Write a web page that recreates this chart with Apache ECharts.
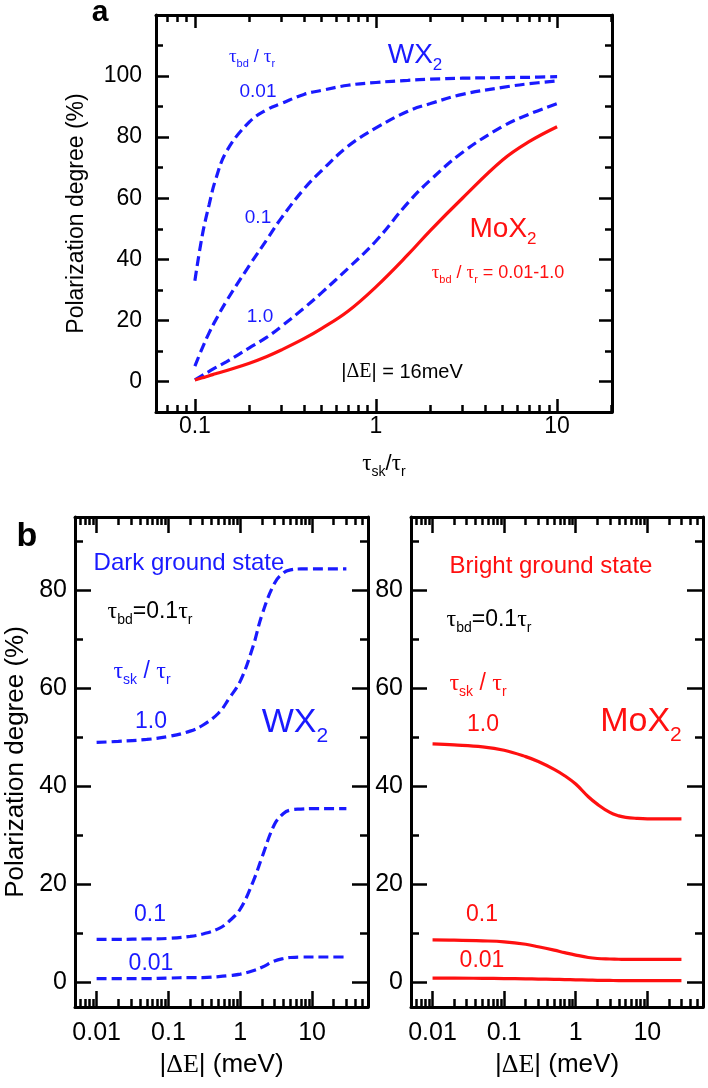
<!DOCTYPE html>
<html><head><meta charset="utf-8">
<script src="https://cdn.jsdelivr.net/npm/echarts@6/dist/echarts.min.js"></script>
<style>html,body{margin:0;padding:0;background:#fff}#c{width:708px;height:1088px}</style>
</head><body><div id="c"></div>
<script>
// ---------- Panel a : polarization vs tau_sk/tau_r (|dE| = 16 meV) ----------
const aX      = [0.1, 0.11, 0.12, 0.13, 0.15, 0.2, 0.25, 0.3, 0.4, 0.5, 0.7, 1, 1.5, 2, 3, 5, 7, 10];
const aWX001  = [33, 48, 58, 66, 75.5, 85, 89, 91, 94, 95.3, 97, 97.9, 98.6, 99, 99.3, 99.5, 99.6, 99.8];
const aWX01   = [5, 11, 16, 20, 26.5, 38, 46.5, 53.5, 63, 69, 77, 83, 88.5, 91, 94, 96.3, 97.5, 98.4];
const aWX1    = [0.5, 2, 3.3, 4.5, 6.5, 11, 14.5, 18, 24, 29, 37, 46, 58.5, 66, 75, 83.5, 87.5, 91];
const aMoX    = [0.5, 1.2, 1.9, 2.5, 3.6, 6, 8.2, 10.3, 14, 17.3, 23, 31, 41.5, 49.5, 60, 72.5, 78.5, 83.4];
const aXRange = [0.061, 20.1];
const aYRange = [-10, 120];
const aXMajor = [0.1, 1, 10];
const aXMajorLabels = ['0.1', '1', '10'];
const aXMinor = [0.07, 0.08, 0.09, 0.2, 0.3, 0.4, 0.5, 0.6, 0.7, 0.8, 0.9, 2, 3, 4, 5, 6, 7, 8, 9, 20];
const aYMajor = [0, 20, 40, 60, 80, 100];
const aYMajorLabels = ['0', '20', '40', '60', '80', '100'];
const aYMinor = [10, 30, 50, 70, 90, 110];

// ---------- Panel b : polarization vs |dE| (tau_bd = 0.1 tau_r) ----------
const bX      = [0.01, 0.02, 0.05, 0.1, 0.2, 0.3, 0.5, 0.7, 1, 1.5, 2, 3, 4, 5, 7, 10, 20, 30];
const bWX1    = [49, 49.2, 49.6, 50.2, 51.3, 52.5, 55, 58, 61.5, 68.5, 75, 81.5, 83.6, 84.2, 84.4, 84.4, 84.4, 84.4];
const bWX01   = [8.8, 8.8, 8.9, 9.0, 9.4, 9.9, 11, 12.5, 15, 20.5, 25.5, 32.3, 34.5, 35.2, 35.4, 35.5, 35.5, 35.5];
const bWX001  = [0.8, 0.8, 0.8, 0.9, 1.0, 1.0, 1.2, 1.4, 1.7, 2.4, 3.1, 4.4, 4.9, 5.1, 5.2, 5.2, 5.2, 5.2];
const bMoX1   = [48.7, 48.5, 48.1, 47.4, 46.1, 45.1, 43.5, 42.2, 40.5, 37.9, 36.4, 34.7, 34, 33.7, 33.5, 33.4, 33.4, 33.4];
const bMoX01  = [8.7, 8.65, 8.5, 8.3, 7.8, 7.3, 6.6, 6.1, 5.6, 5.1, 4.9, 4.8, 4.75, 4.7, 4.7, 4.7, 4.7, 4.7];
const bMoX001 = [0.9, 0.9, 0.85, 0.8, 0.75, 0.7, 0.65, 0.6, 0.55, 0.5, 0.45, 0.42, 0.4, 0.4, 0.4, 0.4, 0.4, 0.4];
const bXRange = [0.005, 60];
const bYRange = [-5, 95];
const bXMajor = [0.01, 0.1, 1, 10];
const bXMajorLabels = ['0.01', '0.1', '1', '10'];
const bXMinor = [0.005, 0.006, 0.007, 0.008, 0.009, 0.02, 0.03, 0.04, 0.05, 0.06, 0.07, 0.08, 0.09,
                 0.2, 0.3, 0.4, 0.5, 0.6, 0.7, 0.8, 0.9, 2, 3, 4, 5, 6, 7, 8, 9, 20, 30, 40, 50];
const bYMajor = [0, 20, 40, 60, 80];
const bYMajorLabels = ['0', '20', '40', '60', '80'];
const bYMinor = [10, 30, 50, 70, 90];

// ---------- styling ----------
const SANS = '"Liberation Sans", Arial, Helvetica, sans-serif';
const SERIF = '"Liberation Serif", "DejaVu Serif", serif';
const BLUE = '#1a1aff';
const RED = '#ff1010';
const lg = Math.log10;

function axisSet(dim, gridIndex, range, majors, majorLabels, minors, o) {
  const isX = dim === 'x';
  const tr = v => isX ? lg(v) : v;
  const base = {
    type: 'value', gridIndex, min: tr(range[0]), max: tr(range[1]),
    splitLine: { show: false }, splitArea: { show: false },
    axisLine: { show: true, onZero: false, lineStyle: { color: '#000', width: 3 } }
  };
  const tick = (vals, len) => ({ show: true, inside: true, length: len, customValues: vals.map(tr),
    lineStyle: { color: '#000', width: 2.5 } });
  const majVals = majors.map(tr);
  const fmt = v => {
    for (let i = 0; i < majVals.length; i++) if (Math.abs(majVals[i] - v) < 1e-6) return majorLabels[i];
    return '';
  };
  const p1 = isX ? 'bottom' : 'left', p2 = isX ? 'top' : 'right';
  const main = Object.assign({}, base, {
    position: p1, axisTick: tick(majors, o.major),
    axisLabel: { show: true, customValues: majVals, formatter: fmt, fontSize: o.fs, fontFamily: SANS,
      color: '#000', margin: o.margin },
  }, o.name ? {
    name: o.name, nameLocation: 'middle', nameGap: o.nameGap, nameRotate: isX ? 0 : 90, nameMoveOverlap: false,
    nameTextStyle: Object.assign({ fontSize: o.nameFs, fontFamily: SANS, color: '#000' }, o.nameRich ? { rich: o.nameRich } : {})
  } : {});
  return [
    main,
    Object.assign({}, base, { position: p1, axisLine: { show: false, onZero: false }, axisTick: tick(minors, o.minor), axisLabel: { show: false } }),
    Object.assign({}, base, { position: p2, axisTick: tick(majors, o.major), axisLabel: { show: false } }),
    Object.assign({}, base, { position: p2, axisLine: { show: false, onZero: false }, axisTick: tick(minors, o.minor), axisLabel: { show: false } })
  ];
}

function richFor(size, color, key) {
  const c = {}; c[key] = color;
  return {
    t: Object.assign({ fontFamily: SERIF, fontSize: Math.round(size * 1.05) }, c),
    s: Object.assign({ fontFamily: SANS, fontSize: Math.round(size * 0.62), padding: [Math.round(size * 0.75), 0, 0, 0] }, c),
    d: Object.assign({ fontFamily: SERIF, fontSize: Math.round(size * 1.0) }, c)
  };
}

const xTitleA = '{t|τ}{s|sk}/{t|τ}{s|r}';
const xTitleB = '|{d|ΔE}| (meV)';

const xAxes = [].concat(
  axisSet('x', 0, aXRange, aXMajor, aXMajorLabels, aXMinor,
    { major: 13, minor: 7, fs: 23, margin: 3, name: xTitleA, nameGap: 36, nameFs: 22, nameRich: richFor(22, '#000', 'color') }),
  axisSet('x', 1, bXRange, bXMajor, bXMajorLabels, bXMinor,
    { major: 16, minor: 8, fs: 25, margin: 14, name: xTitleB, nameGap: 45, nameFs: 26, nameRich: richFor(26, '#000', 'color') }),
  axisSet('x', 2, bXRange, bXMajor, bXMajorLabels, bXMinor,
    { major: 16, minor: 8, fs: 25, margin: 14, name: xTitleB, nameGap: 45, nameFs: 26, nameRich: richFor(26, '#000', 'color') })
);
const yAxes = [].concat(
  axisSet('y', 0, aYRange, aYMajor, aYMajorLabels, aYMinor,
    { major: 13, minor: 7, fs: 23, margin: 14, name: 'Polarization degree (%)', nameGap: 68, nameFs: 23 }),
  axisSet('y', 1, bYRange, bYMajor, bYMajorLabels, bYMinor,
    { major: 16, minor: 8, fs: 25, margin: 8, name: 'Polarization degree (%)', nameGap: 46, nameFs: 26 }),
  axisSet('y', 2, bYRange, bYMajor, bYMajorLabels, bYMinor,
    { major: 16, minor: 8, fs: 25, margin: 8 })
);

const pair = (xs, ys) => xs.map((x, i) => [lg(x), ys[i]]);
function line(name, grid, xs, ys, color, dashed) {
  return {
    type: 'line', name, xAxisIndex: grid * 4, yAxisIndex: grid * 4, data: pair(xs, ys),
    showSymbol: false, symbol: 'none', smooth: 0.4, silent: true, animation: false,
    lineStyle: { color, width: 3.2, type: dashed ? [10, 5] : 'solid', cap: 'butt' }
  };
}
const series = [
  line('WX2 0.01', 0, aX, aWX001, BLUE, true),
  line('WX2 0.1', 0, aX, aWX01, BLUE, true),
  line('WX2 1.0', 0, aX, aWX1, BLUE, true),
  line('MoX2 0.01-1.0', 0, aX, aMoX, RED, false),
  line('WX2 1.0', 1, bX, bWX1, BLUE, true),
  line('WX2 0.1', 1, bX, bWX01, BLUE, true),
  line('WX2 0.01', 1, bX, bWX001, BLUE, true),
  line('MoX2 1.0', 2, bX, bMoX1, RED, false),
  line('MoX2 0.1', 2, bX, bMoX01, RED, false),
  line('MoX2 0.01', 2, bX, bMoX001, RED, false)
];

function txt(x, y, text, size, color, extra) {
  return { type: 'text', x, y, silent: true, z: 100,
    style: Object.assign({ text, fontSize: size, fontFamily: SANS, fill: color, align: 'center', verticalAlign: 'middle',
      rich: richFor(size, color, 'fill') }, extra || {}) };
}
const graphics = [
  txt(100, 13, 'a', 30, '#000', { fontWeight: 'bold' }),
  txt(27, 537, 'b', 34, '#000', { fontWeight: 'bold' }),
  // panel a
  txt(252, 57, '{t|τ}{s|bd} / {t|τ}{s|r}', 18, BLUE),
  txt(415, 55, 'WX{s|2}', 28, BLUE),
  txt(258, 92, '0.01', 19, BLUE),
  txt(258, 218, '0.1', 19, BLUE),
  txt(260, 317, '1.0', 19, BLUE),
  txt(503, 229, 'MoX{s|2}', 28, RED),
  txt(498, 273, '{t|τ}{s|bd} / {t|τ}{s|r} = 0.01-1.0', 18, RED),
  txt(402, 372, '|{d|ΔE}| = 16meV', 20, '#000'),
  // panel b left
  txt(189, 563, 'Dark ground state', 24, BLUE),
  txt(150, 612, '{t|τ}{s|bd}=0.1{t|τ}{s|r}', 23, '#000'),
  txt(142, 672, '{t|τ}{s|sk} / {t|τ}{s|r}', 23, BLUE),
  txt(151, 722, '1.0', 23, BLUE),
  txt(295, 723, 'WX{s|2}', 34, BLUE),
  txt(150, 915, '0.1', 23, BLUE),
  txt(151, 964, '0.01', 23, BLUE),
  // panel b right
  txt(551, 566, 'Bright ground state', 24, RED),
  txt(489, 620, '{t|τ}{s|bd}=0.1{t|τ}{s|r}', 23, '#000'),
  txt(478, 684, '{t|τ}{s|sk} / {t|τ}{s|r}', 23, RED),
  txt(483, 725, '1.0', 23, RED),
  txt(641, 722, 'MoX{s|2}', 34, RED),
  txt(482, 915, '0.1', 23, RED),
  txt(482, 961, '0.01', 23, RED)
];

const chart = echarts.init(document.getElementById('c'), null, { renderer: 'canvas' });
chart.setOption({
  backgroundColor: '#fff',
  animation: false,
  textStyle: { fontFamily: SANS },
  grid: [
    { left: 156, top: 15, width: 456, height: 397, containLabel: false, outerBoundsMode: 'none' },
    { left: 75, top: 517, width: 293, height: 490, containLabel: false, outerBoundsMode: 'none' },
    { left: 411, top: 517, width: 292, height: 490, containLabel: false, outerBoundsMode: 'none' }
  ],
  xAxis: xAxes,
  yAxis: yAxes,
  series,
  graphic: graphics
});
</script></body></html>
